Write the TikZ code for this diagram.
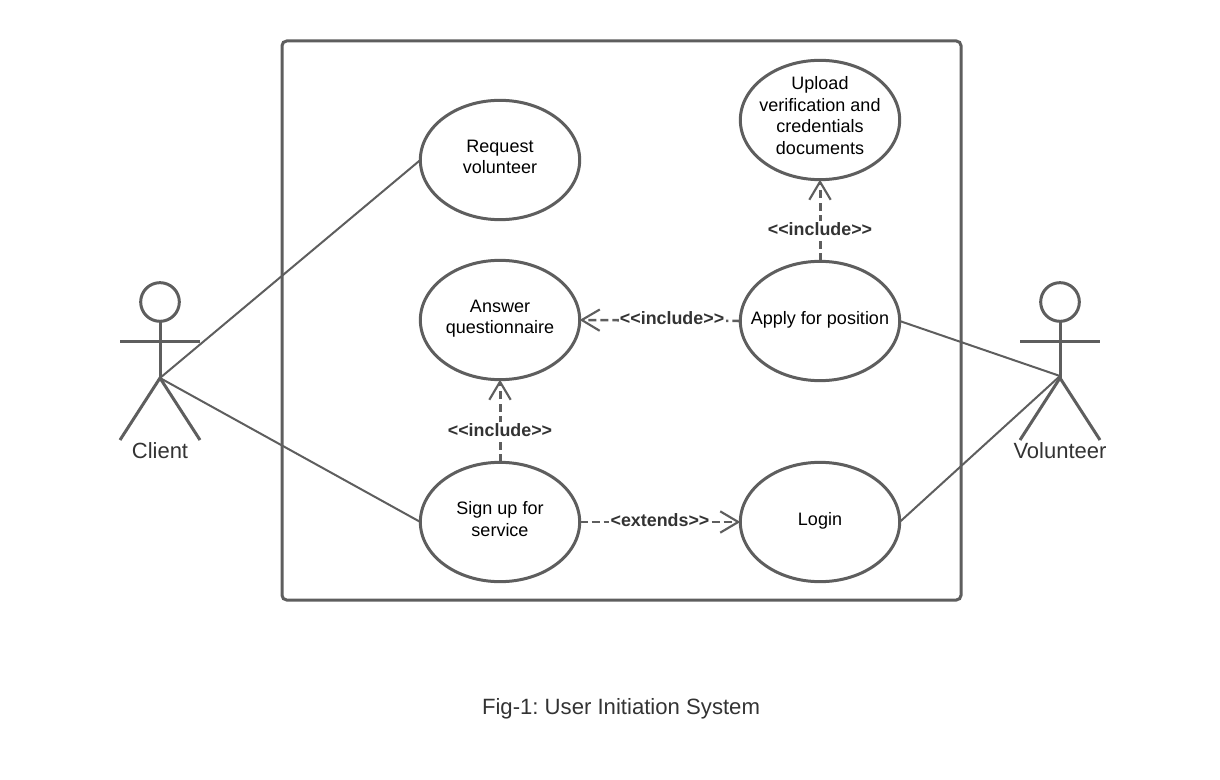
\documentclass[tikz,border=0pt]{standalone}
\usepackage{fontspec}
\setmainfont{Liberation Sans}
\usetikzlibrary{shapes.geometric,arrows.meta}
\definecolor{ln}{HTML}{5E5E5E}
\definecolor{tx}{HTML}{333333}
\newcommand{\inc}{<{}<include>{}>}
\newcommand{\lft}[1]{\rule[-#1]{0pt}{0pt}}
\frenchspacing
\tikzset{
  x=0.75pt,y=-0.75pt,
  usecase/.style={ellipse,draw=ln,line width=2.25pt,fill=white,minimum width=119.5pt,minimum height=89.5pt,inner xsep=-25pt,inner ysep=-15pt,outer sep=0pt,align=center,text=black,font=\fontsize{13.5}{16.1}\selectfont},
  assoc/.style={draw=ln,line width=1.5pt},
  limb/.style={draw=ln,line width=2.25pt},
  depv/.style={draw=ln,line width=2.25pt,dash pattern=on 6pt off 3.5pt,-{Straight Barb[length=13.5pt,width=16pt,line width=1.6pt]}},
  deph/.style={draw=ln,line width=1.9pt,dash pattern=on 6pt off 3pt,-{Straight Barb[length=13.5pt,width=16pt,line width=1.6pt]}},
  deplabel/.style={fill=white,inner sep=1pt,text=tx,font=\fontsize{13.4}{15}\selectfont\bfseries},
  actorhead/.style={circle,draw=ln,line width=2.25pt,minimum size=29pt,inner sep=0pt,outer sep=0pt},
  actorname/.style={text=tx,inner sep=0pt,font=\fontsize{16.5}{19}\selectfont},
  frameb/.style={rectangle,draw=ln,line width=2.25pt,rounded corners=3.5pt,minimum width=509.25pt,minimum height=419.25pt,inner sep=0pt},
  captionb/.style={text=tx,inner sep=0pt,font=\fontsize{16.6}{19}\selectfont}
}
\begin{document}
\begin{tikzpicture}
\useasboundingbox (0,0) rectangle (1220,780);
\node[frameb] (sys) at (621.5,320.5) {};
% actors
\node[actorhead] (chead) at (160,302) {};
\coordinate (cbody) at (160,378);
\coordinate (carmL) at (120,341.5);
\coordinate (carmR) at (200,341.5);
\coordinate (clegL) at (120,440);
\coordinate (clegR) at (200,440);
\draw[limb] (chead) -- (cbody);
\draw[limb] (carmL) -- (carmR);
\draw[limb] (clegL) -- (cbody) -- (clegR);
\node[actorname] (client) at (160,451) {Client};
\node[actorhead] (vhead) at (1060,302) {};
\coordinate (vbody) at (1060,378);
\coordinate (vlink) at (1060,376);
\coordinate (varmL) at (1020,341.5);
\coordinate (varmR) at (1100,341.5);
\coordinate (vlegL) at (1020,440);
\coordinate (vlegR) at (1100,440);
\draw[limb] (vhead) -- (vbody);
\draw[limb] (varmL) -- (varmR);
\draw[limb] (vlegL) -- (vbody) -- (vlegR);
\node[actorname] (volunteer) at (1060,451) {Volunteer};
% use cases
\node[usecase] (req) at (500,160) {Request\\volunteer\lft{4.5pt}};
\node[usecase] (ans) at (500,320) {Answer\\questionnaire\lft{4.4pt}};
\node[usecase] (sign) at (500,522) {Sign up for\\service\lft{4.5pt}};
\node[usecase] (upl) at (820,120) {Upload\\verification and\\credentials\\documents\lft{6.8pt}};
\node[usecase] (app) at (820,321) {Apply for position\lft{4.4pt}};
\node[usecase] (log) at (820,522) {Login\lft{4.4pt}};
% associations
\draw[assoc] (cbody) -- (req.west);
\draw[assoc] (cbody) -- (sign.west);
\draw[assoc] (app.east) -- (vlink);
\draw[assoc] (log.east) -- (vlink);
% dependencies
\draw[depv] (app.north) -- node[deplabel,pos=0.4] {\inc} (upl.south);
\draw[deph] (app.west) -- node[deplabel,pos=0.425,yshift=1.5pt] {\inc} (ans.east);
\draw[depv] (sign.north) -- node[deplabel,pos=0.4,yshift=-0.75pt] {\inc} (ans.south);
\draw[deph] (sign.east) -- node[deplabel,pos=0.5,yshift=1.5pt] {<extends>{}>} (log.west);
\node[captionb] (cap) at (621,709) {Fig-1: User Initiation System};
\end{tikzpicture}
\end{document}
